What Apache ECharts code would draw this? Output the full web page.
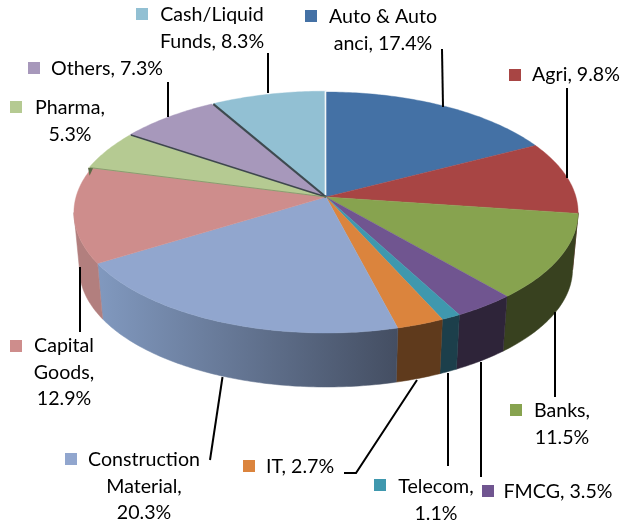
<!DOCTYPE html>
<html><head><meta charset="utf-8">
<style>html,body{margin:0;padding:0;background:#fff}#c{width:622px;height:525px}</style>
<script src="https://cdn.jsdelivr.net/npm/echarts@6/dist/echarts.min.js"></script>
</head><body><div id="c"></div>
<script>
const categories=['Auto & Auto anci','Agri','Banks','FMCG','Telecom','IT','Construction Material','Capital Goods','Pharma','Others','Cash/Liquid Funds'];
const shares=[17.4,9.8,11.5,3.5,1.1,2.7,20.3,12.9,5.3,7.3,8.3];
const labelTexts=['Auto & Auto\nanci, 17.4%','Agri, 9.8%','Banks,\n11.5%','FMCG, 3.5%','Telecom,\n1.1%','IT, 2.7%','Construction\nMaterial,\n20.3%','Capital\nGoods,\n12.9%','Pharma,\n5.3%','Others, 7.3%','Cash/Liquid\nFunds, 8.3%'];
const topColors=['#4471a5','#a84544','#87a34f','#705590','#3f98ae','#db843d','#91a6ce','#ce8d8c','#b5ca92','#a798bb','#92c0d3'];
const wallColors=['#2b4769','#6b2c2b','#38411f','#2e2439','#1c3f4b','#5f3a1c',null,'#b27f7e','#5d6b47','#6a6077','#5d7a86'];
// label layout: key box left/top, text centre x, first-line centre y
const labelLayout=[[305,10,383,17],[509,69,576,75],[510,404,562,411],[482,485,558,492],[374,479,436,487],[243,460,300,467],[65,453,144,460],[10,340,64,346],[10,101,70,108],[28,62,107,69],[136,8,212,15]];
const leaders=[[[442,49],[443,107]],[[567,88],[567,178]],[[555,312],[555,397]],[[481,362],[481,477]],[[448,373],[448,466]],[[417,380],[356,473],[344,473]],[[222.5,377],[210,460]],[[80,267],[80,332]],[[168,82],[168,117]],[[268,53],[268,93]]];

// perspective projection of the pie disc
const P={cx:326,ay:197,a:250,b:118.5,k:0.1286,by:254,s:0.978};
const wallFrom=Math.acos(-P.k); // silhouette angle on the right
const wallTo=2*Math.PI-wallFrom;
function topPt(t){const d=1+P.k*Math.cos(t);return [P.cx+P.a*Math.sin(t)/d,P.ay-P.b*Math.cos(t)/d];}
function botPt(t){const p=topPt(t);return [P.cx+(p[0]-P.cx)*P.s,P.by+(p[1]-P.ay)*P.s];}
const total=shares.reduce((x,y)=>x+y,0);
function range(i){let c=0;for(let j=0;j<i;j++)c+=shares[j];return [c/total*2*Math.PI,(c+shares[i])/total*2*Math.PI];}
function sample(s,e,f){const n=Math.max(2,Math.ceil((e-s)/0.015));const o=[];for(let j=0;j<=n;j++)o.push(f(s+(e-s)*j/n));return o;}
const explode={8:[-3,0],9:[-2.5,-0.5],10:[-1.2,-0.8]};

function renderWall(params,api){
  const i=api.value(0);
  let [s,e]=range(i);
  s=Math.max(s,wallFrom);e=Math.min(e,wallTo);
  if(e<=s)return null;
  const t=sample(s,e,topPt),b=sample(s,e,botPt).reverse();
  let fill=wallColors[i];
  if(fill===null){fill=new echarts.graphic.LinearGradient(0,0,1,0,[{offset:0,color:'#8199bf'},{offset:1,color:'#444e62'}]);}
  return {type:'polygon',shape:{points:t.concat(b)},style:{fill:fill,stroke:fill,lineWidth:0.5}};
}
function renderTop(params,api){
  const i=api.value(0);
  const off=explode[i]||[0,0];
  const [s,e]=range(i);
  const pts=[[P.cx,P.ay]].concat(sample(s,e,topPt).map(p=>[p[0]+off[0],p[1]+off[1]]));
  return {type:'polygon',shape:{points:pts},style:{fill:topColors[i],stroke:topColors[i],lineWidth:0.4}};
}
const ids=shares.map((v,i)=>[i,v]);
const graphics=[];
// side edges of the slightly pulled-out slices
[[9,'#3e474c',1.5],[10,'#3e4a50',2.2]].forEach(e=>{
  const p=topPt(range(e[0])[0]),o=explode[e[0]];
  graphics.push({type:'line',z:5,shape:{x1:p[0]+o[0]*0.6,y1:p[1]+o[1]*0.6,x2:P.cx,y2:P.ay},style:{stroke:e[1],lineWidth:e[2]}});
});
graphics.push({type:'line',z:5,shape:{x1:325.5,y1:90,x2:325.5,y2:195},style:{stroke:'#f2f6f8',lineWidth:1.6}});
const p8=topPt(range(8)[0]);
graphics.push({type:'line',z:5,shape:{x1:p8[0]-2,y1:p8[1],x2:P.cx,y2:P.ay},style:{stroke:'#7f8f66',lineWidth:0.8}});
graphics.push({type:'polygon',z:5,shape:{points:[[p8[0]-4,p8[1]],[p8[0]+1,p8[1]+0.5],[p8[0]-2.5,p8[1]+8]]},style:{fill:'#5d6b47'}});
leaders.forEach(l=>graphics.push({type:'polyline',z:6,shape:{points:l},style:{stroke:'#000',lineWidth:2,fill:null}}));
labelLayout.forEach((l,i)=>{
  graphics.push({type:'rect',z:7,shape:{x:l[0],y:l[1],width:12,height:12},style:{fill:topColors[i]}});
  graphics.push({type:'text',z:7,x:l[2],y:l[3]-13,style:{text:labelTexts[i],fill:'#000',font:'19.6px Lato',align:'center',verticalAlign:'top',lineHeight:26.3}});
});
const chart=echarts.init(document.getElementById('c'),null,{renderer:'canvas'});
chart.setOption({
  animation:false,backgroundColor:'#fff',
  graphic:{elements:graphics},
  series:[
    {type:'custom',coordinateSystem:'none',name:'side',z:1,data:ids,renderItem:renderWall,silent:true},
    {type:'custom',coordinateSystem:'none',name:'share',z:2,data:ids,renderItem:renderTop,silent:true}
  ]
});
</script></body></html>
